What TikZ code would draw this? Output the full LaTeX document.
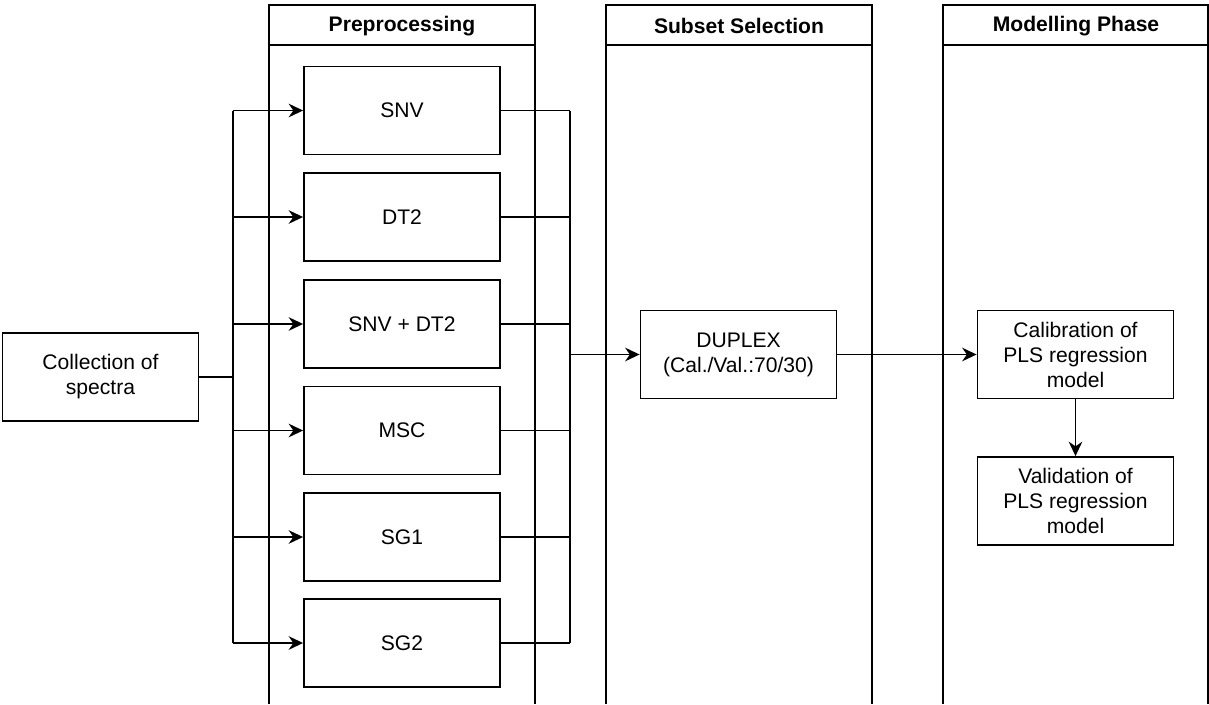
\documentclass[tikz,border=0pt]{standalone}
\usepackage{fontspec}
\setmainfont{Liberation Sans}
\usetikzlibrary{arrows.meta,calc}

\tikzset{
    box/.style={draw, line width=1.3pt, align=center, minimum width=4.9cm, minimum height=2.2cm, inner sep=2pt},
    lane/.style={draw, line width=1.3pt},
    flow/.style={line width=1.3pt, -{Stealth[length=3.6mm,width=3.4mm]}},
    wire/.style={line width=1.3pt},
    laneTitle/.style={font=\fontsize{15pt}{18pt}\selectfont\bfseries},
}

\begin{document}
\begin{tikzpicture}[x=0.025cm, y=-0.025cm, font=\fontsize{15pt}{17.8pt}\selectfont]
    \useasboundingbox (0,0) rectangle (1209,704);

    % three swimlanes, open at the bottom
    \draw[lane] (269,704)--(269,5)--(535,5)--(535,704);
    \draw[lane] (269,45)--(535,45);
    \node[laneTitle] (preLabel) at (402,26) {Preprocessing};

    \draw[lane] (606,704)--(606,5)--(872,5)--(872,704);
    \draw[lane] (606,45)--(872,45);
    \node[laneTitle] (subLabel) at (739,26) {Subset Selection};

    \draw[lane] (943,704)--(943,5)--(1208.3,5)--(1208.3,704);
    \draw[lane] (943,45)--(1208.3,45);
    \node[laneTitle] (modLabel) at (1076,26) {Modelling Phase};

    % input and preprocessing steps
    \node[box] (spectra) at (100.5,377) {Collection of\\spectra};
    \node[box] (snv) at (402,110.5) {SNV};
    \node[box] (dt) at (402,217) {DT2};
    \node[box] (snvdt) at (402,324) {SNV + DT2};
    \node[box] (msc) at (402,430.5) {MSC};
    \node[box] (sgone) at (402,537) {SG1};
    \node[box] (sgtwo) at (402,643) {SG2};

    % subset selection and modelling
    \node[box] (duplex) at (738.5,354.5) {DUPLEX\\(Cal./Val.:70/30)};
    \node[box] (calib) at (1075.5,354.5) {Calibration of\\PLS regression\\model};
    \node[box] (valid) at (1075.5,501) {Validation of\\PLS regression\\model};

    \coordinate (split) at (233,377);
    \coordinate (merge) at (570,354.5);

    % fan out to every preprocessing step
    \draw[wire] (spectra.east) -- (split);
    \draw[wire] (split |- snv.west) -- (split |- sgtwo.west);
    \draw[flow] (split |- snv.west) -- (snv.west);
    \draw[flow] (split |- dt.west) -- (dt.west);
    \draw[flow] (split |- snvdt.west) -- (snvdt.west);
    \draw[flow] (split |- msc.west) -- (msc.west);
    \draw[flow] (split |- sgone.west) -- (sgone.west);
    \draw[flow] (split |- sgtwo.west) -- (sgtwo.west);

    % collect them again
    \draw[wire] (snv.east) -- (merge |- snv.east);
    \draw[wire] (dt.east) -- (merge |- dt.east);
    \draw[wire] (snvdt.east) -- (merge |- snvdt.east);
    \draw[wire] (msc.east) -- (merge |- msc.east);
    \draw[wire] (sgone.east) -- (merge |- sgone.east);
    \draw[wire] (sgtwo.east) -- (merge |- sgtwo.east);
    \draw[wire] (merge |- snv.east) -- (merge |- sgtwo.east);
    \draw[flow] (merge) -- (duplex.west);

    \draw[flow] (duplex.east) -- (calib.west);
    \draw[flow] (calib.south) -- (valid.north);
\end{tikzpicture}
\end{document}
